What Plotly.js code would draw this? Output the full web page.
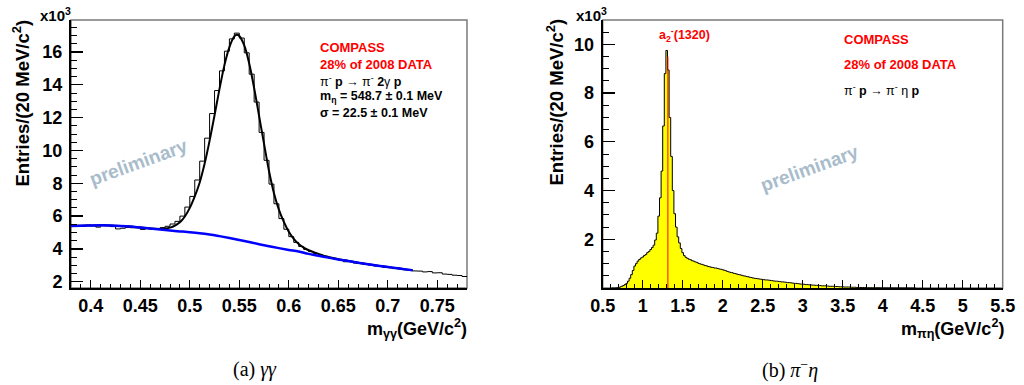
<!DOCTYPE html>
<html><head><meta charset="utf-8">
<script src="https://cdn.plot.ly/plotly-3.0.1.min.js"></script>
<style>html,body{margin:0;padding:0;background:#fff;} #chart{width:1024px;height:385px;}
#chart .xtick text, #chart .ytick text, #chart .x2tick text, #chart .y2tick text{font-weight:700 !important;}</style>
</head><body><div id="chart"></div>
<script>
// ---------- (a) gamma-gamma invariant mass (in units of 10^3 entries) ----------
const ggStart = 0.38, ggBin = 0.005;
const ggCounts = [
  5.45,5.43,5.38,5.45,5.44,5.33,5.47,5.42,5.36,5.22,
  5.26,5.31,5.29,5.33,5.19,5.24,5.20,5.25,5.30,5.38,
  5.52,5.68,6.00,6.55,7.20,8.20,9.35,10.75,12.25,13.65,
  14.85,16.05,16.80,17.15,16.85,15.95,14.65,12.95,11.10,9.40,
  7.95,6.75,5.85,5.20,4.75,4.40,4.15,3.97,3.84,3.72,
  3.62,3.55,3.44,3.40,3.32,3.22,3.24,3.14,3.16,3.05,
  3.03,2.97,2.95,2.88,2.86,2.80,2.79,2.73,2.71,2.66,
  2.65,2.60,2.62,2.54,2.55,2.47,2.45,2.40,2.38,2.32
];
const fitMass = [0.38,0.39,0.40,0.41,0.42,0.43,0.44,0.45,0.46,0.47,0.475,0.48,0.485,0.49,0.495,0.50,0.505,0.51,0.515,0.52,0.525,0.53,0.535,0.54,0.545,0.5475,0.55,0.555,0.56,0.565,0.57,0.575,0.58,0.585,0.59,0.595,0.60,0.605,0.61,0.615,0.62,0.63,0.64,0.65,0.66,0.67,0.68,0.69,0.70,0.71,0.72,0.725];
const fitTotal = [5.40,5.42,5.43,5.44,5.43,5.40,5.36,5.30,5.25,5.22,5.24,5.30,5.42,5.62,5.98,6.50,7.20,8.05,9.20,10.60,12.15,13.75,15.20,16.30,16.95,17.05,16.98,16.40,15.30,13.80,12.10,10.40,8.75,7.40,6.40,5.65,5.05,4.62,4.30,4.08,3.92,3.70,3.51,3.38,3.27,3.16,3.07,2.98,2.90,2.82,2.74,2.70];
const bkgMass = [0.38,0.39,0.40,0.41,0.42,0.43,0.44,0.45,0.46,0.47,0.48,0.49,0.50,0.51,0.52,0.53,0.54,0.55,0.56,0.57,0.58,0.59,0.60,0.61,0.62,0.63,0.64,0.65,0.66,0.67,0.68,0.69,0.70,0.71,0.72,0.725];
const bkgYield = [5.40,5.42,5.43,5.44,5.43,5.40,5.36,5.30,5.24,5.18,5.12,5.07,5.02,4.96,4.88,4.78,4.67,4.55,4.42,4.29,4.17,4.05,3.94,3.84,3.70,3.59,3.47,3.36,3.26,3.16,3.07,2.98,2.90,2.82,2.74,2.70];
const ggXTickVals = [0.4,0.45,0.5,0.55,0.6,0.65,0.7,0.75];
const ggXTickText = ["0.4","0.45","0.5","0.55","0.6","0.65","0.7","0.75"];
const ggYTickVals = [2,4,6,8,10,12,14,16];
const ggYTickText = ["2","4","6","8","10","12","14","16"];

// ---------- (b) pi- eta invariant mass (in units of 10^3 entries) ----------
const peStart = 0.61, peBin = 0.02;
const peCounts = [
  0,0,0,0.01,0.02,0.04,0.07,0.10,0.14,0.19,
  0.28,0.40,0.55,0.72,0.90,1.00,1.10,1.17,1.23,1.27,
  1.33,1.37,1.45,1.50,1.58,1.66,1.76,1.97,2.25,2.95,
  3.70,4.80,6.65,8.80,9.75,8.95,7.00,5.40,4.00,3.05,
  2.50,2.10,1.85,1.62,1.45,1.33,1.26,1.22,1.18,1.16,
  1.12,1.10,1.07,1.05,1.01,0.99,0.97,0.95,0.92,0.91,
  0.88,0.87,0.85,0.84,0.82,0.82,0.80,0.78,0.77,0.75,
  0.73,0.71,0.68,0.66,0.64,0.63,0.60,0.59,0.57,0.55,
  0.54,0.52,0.50,0.49,0.47,0.46,0.44,0.43,0.41,0.40,
  0.39,0.38,0.37,0.36,0.35,0.34,0.33,0.33,0.32,0.31,
  0.30,0.29,0.28,0.28,0.27,0.26,0.25,0.25,0.24,0.23,
  0.22,0.22,0.21,0.20,0.19,0.19,0.18,0.17,0.16,0.16,
  0.15,0.14,0.14,0.13,0.13,0.12,0.12,0.11,0.11,0.10,
  0.10,0.09,0.09,0.09,0.08,0.08,0.07,0.07,0.07,0.06,
  0.06,0.06,0.05,0.05,0.05,0.04,0.04,0.04,0.04,0.03,
  0.03,0.03,0.03,0.02,0.02,0.02,0.02,0.02,0.02,0.01,
  0.01,0.01,0.01,0.01,0.01,0.01,0.01,0.01,0.005,0.005,
  0.005,0.005,0.005,0.005,0.004,0.004,0.003,0.003,0.002,0.002,
  0.002,0.001,0.001,0.001,0.001,0,0,0,0,0
];
const a2Mass = 1.315, a2LineTop = 9.5;
const peXTickVals = [0.5,1,1.5,2,2.5,3,3.5,4,4.5,5,5.5];
const peXTickText = ["0.5","1","1.5","2","2.5","3","3.5","4","4.5","5","5.5"];
const peYTickVals = [2,4,6,8,10];
const peYTickText = ["2","4","6","8","10"];

// ---------- build step-histogram arrays ----------
function steps(start, bin, counts){
  const x = counts.map((_, i) => start + i*bin);
  const y = counts.slice();
  x.push(start + counts.length*bin); y.push(counts[counts.length-1]);
  return {x, y};
}
const gg = steps(ggStart, ggBin, ggCounts);
const pe = steps(peStart, peBin, peCounts);
const bold = arr => arr.map(t => '<b>' + t + '</b>');

const W = 1024, H = 385;
const px = v => v / W, py = v => (H - v) / H;
const FONT = 'Liberation Sans, Arial, Helvetica, sans-serif';

const traces = [
  {x: gg.x, y: gg.y, xaxis:'x', yaxis:'y', mode:'lines', line:{shape:'hv', color:'#000', width:1}, hoverinfo:'skip'},
  {x: fitMass, y: fitTotal, xaxis:'x', yaxis:'y', mode:'lines', line:{shape:'spline', color:'#000', width:2}, hoverinfo:'skip'},
  {x: bkgMass, y: bkgYield, xaxis:'x', yaxis:'y', mode:'lines', line:{shape:'spline', color:'#0000ff', width:2.5}, hoverinfo:'skip'},
  {x: pe.x, y: pe.y, xaxis:'x2', yaxis:'y2', mode:'lines', fill:'tozeroy', fillcolor:'#ffff00', line:{shape:'hv', color:'#000', width:1}, hoverinfo:'skip'},
  {x: [a2Mass, a2Mass], y: [0, a2LineTop], xaxis:'x2', yaxis:'y2', mode:'lines', line:{color:'#ff0000', width:1}, hoverinfo:'skip'}
];

const tickFont = {family: FONT, size: 18, color: '#000', weight: 700};
function xAxis(domain, range, tv, tt, minorDt, minorT0, anchor){
  return {domain, range, anchor, showline:true, linecolor:'#000', linewidth:2, ticks:'inside', ticklen:8, tickwidth:1.3, tickcolor:'#000',
    tickmode:'array', tickvals:tv, ticktext:bold(tt), tickfont:tickFont, showgrid:false, zeroline:false, fixedrange:true,
    minor:{tick0:minorT0, dtick:minorDt, ticks:'inside', ticklen:4, tickwidth:1, tickcolor:'#000', showgrid:false}};
}
function yAxis(domain, range, tv, tt, minorDt, anchor){
  return {domain, range, anchor, showline:true, linecolor:'#000', linewidth:2, ticks:'inside', ticklen:12, tickwidth:1.3, tickcolor:'#000',
    tickmode:'array', tickvals:tv, ticktext:bold(tt), tickfont:tickFont, showgrid:false, zeroline:false, fixedrange:true, ticklabelstandoff:3,
    minor:{tick0:0, dtick:minorDt, ticks:'inside', ticklen:6, tickwidth:1, tickcolor:'#000', showgrid:false}};
}
const yDom = [97/H, 365/H];
const layout = {
  width: W, height: H, margin:{l:0,r:0,t:0,b:0,pad:0}, paper_bgcolor:'#fff', plot_bgcolor:'#fff', showlegend:false,
  xaxis:  xAxis([71/W, 467/W], [0.38, 0.78], ggXTickVals, ggXTickText, 0.01, 0.4, 'y'),
  yaxis:  yAxis(yDom, [1.62, 17.95], ggYTickVals, ggYTickText, 0.5, 'x'),
  xaxis2: xAxis([602.7/W, 1002.7/W], [0.5, 5.5], peXTickVals, peXTickText, 0.1, 0.5, 'y2'),
  yaxis2: yAxis(yDom, [0, 11], peYTickVals, peYTickText, 0.5, 'x2'),
  shapes: [
    {type:'rect', xref:'x domain', yref:'y domain', x0:0, x1:1, y0:0, y1:1, line:{color:'#7a7a7a', width:1.5}, layer:'below'},
    {type:'rect', xref:'x2 domain', yref:'y2 domain', x0:0, x1:1, y0:0, y1:1, line:{color:'#7a7a7a', width:1.5}, layer:'below'}
  ],
  annotations: []
};
function ann(text, x, y, opts){
  return Object.assign({text, x:px(x), y:py(y), xref:'paper', yref:'paper', showarrow:false, xanchor:'left', yanchor:'middle',
    font:{family:FONT, size:13, color:'#000'}}, opts || {});
}
const red = '#ff0000';
layout.annotations.push(
  ann('<b>x10<sup>3</sup></b>', 73, 14, {xanchor:'right', font:{family:FONT, size:15, color:'#000'}}),
  ann('<b>Entries/(20 MeV/c<sup>2</sup>)</b>', 21, 18, {xanchor:'center', yanchor:'top', textangle:-90, font:{family:FONT, size:18.5, color:'#000'}}),
  ann('<b>m<sub>γγ</sub>(GeV/c<sup>2</sup>)</b>', 469, 328, {xanchor:'right', font:{family:FONT, size:18, color:'#000'}}),
  ann('<b>COMPASS</b>', 318, 47, {font:{family:FONT, size:13, color:red}}),
  ann('<b>28% of 2008 DATA</b>', 318, 65, {font:{family:FONT, size:13, color:red}}),
  ann('π<sup>-</sup> <b>p</b> → π<sup>-</sup> <b>2</b>γ <b>p</b>', 318, 81, {font:{family:FONT, size:12.5, color:'#000'}}),
  ann('<b>m<sub>η</sub> = 548.7 ± 0.1 MeV</b>', 318, 97, {font:{family:FONT, size:12.5, color:'#000'}}),
  ann('<b>σ = 22.5 ± 0.1 MeV</b>', 318, 113, {font:{family:FONT, size:12.5, color:'#000'}}),
  ann('<b>preliminary</b>', 138, 162, {xanchor:'center', textangle:-20, font:{family:FONT, size:19, color:'#a9bccb'}}),

  ann('<b>x10<sup>3</sup></b>', 609, 14, {xanchor:'right', font:{family:FONT, size:15, color:'#000'}}),
  ann('<b>Entries/(20 MeV/c<sup>2</sup>)</b>', 555, 17, {xanchor:'center', yanchor:'top', textangle:-90, font:{family:FONT, size:18.5, color:'#000'}}),
  ann('<b>m<sub>πη</sub>(GeV/c<sup>2</sup>)</b>', 1006, 328, {xanchor:'right', font:{family:FONT, size:18, color:'#000'}}),
  ann('<b>a<sub>2</sub><sup>-</sup>(1320)</b>', 657, 35, {font:{family:FONT, size:12.5, color:red}}),
  ann('<b>COMPASS</b>', 842, 39, {font:{family:FONT, size:13, color:red}}),
  ann('<b>28% of 2008 DATA</b>', 842, 64, {font:{family:FONT, size:13, color:red}}),
  ann('π<sup>-</sup> <b>p</b> → π<sup>-</sup> η <b>p</b>', 842, 90, {font:{family:FONT, size:12.5, color:'#000'}}),
  ann('<b>preliminary</b>', 809, 168, {xanchor:'center', textangle:-20, font:{family:FONT, size:19, color:'#a9bccb'}}),

  ann('(a) <i>γγ</i>', 255, 369, {xanchor:'center', font:{family:'Liberation Serif, Times New Roman, serif', size:20, color:'#000'}}),
  ann('(b) <i>π</i><sup>−</sup><i>η</i>', 790, 369, {xanchor:'center', font:{family:'Liberation Serif, Times New Roman, serif', size:20, color:'#000'}})
);
Plotly.newPlot('chart', traces, layout, {staticPlot:true, displayModeBar:false});
</script></body></html>
